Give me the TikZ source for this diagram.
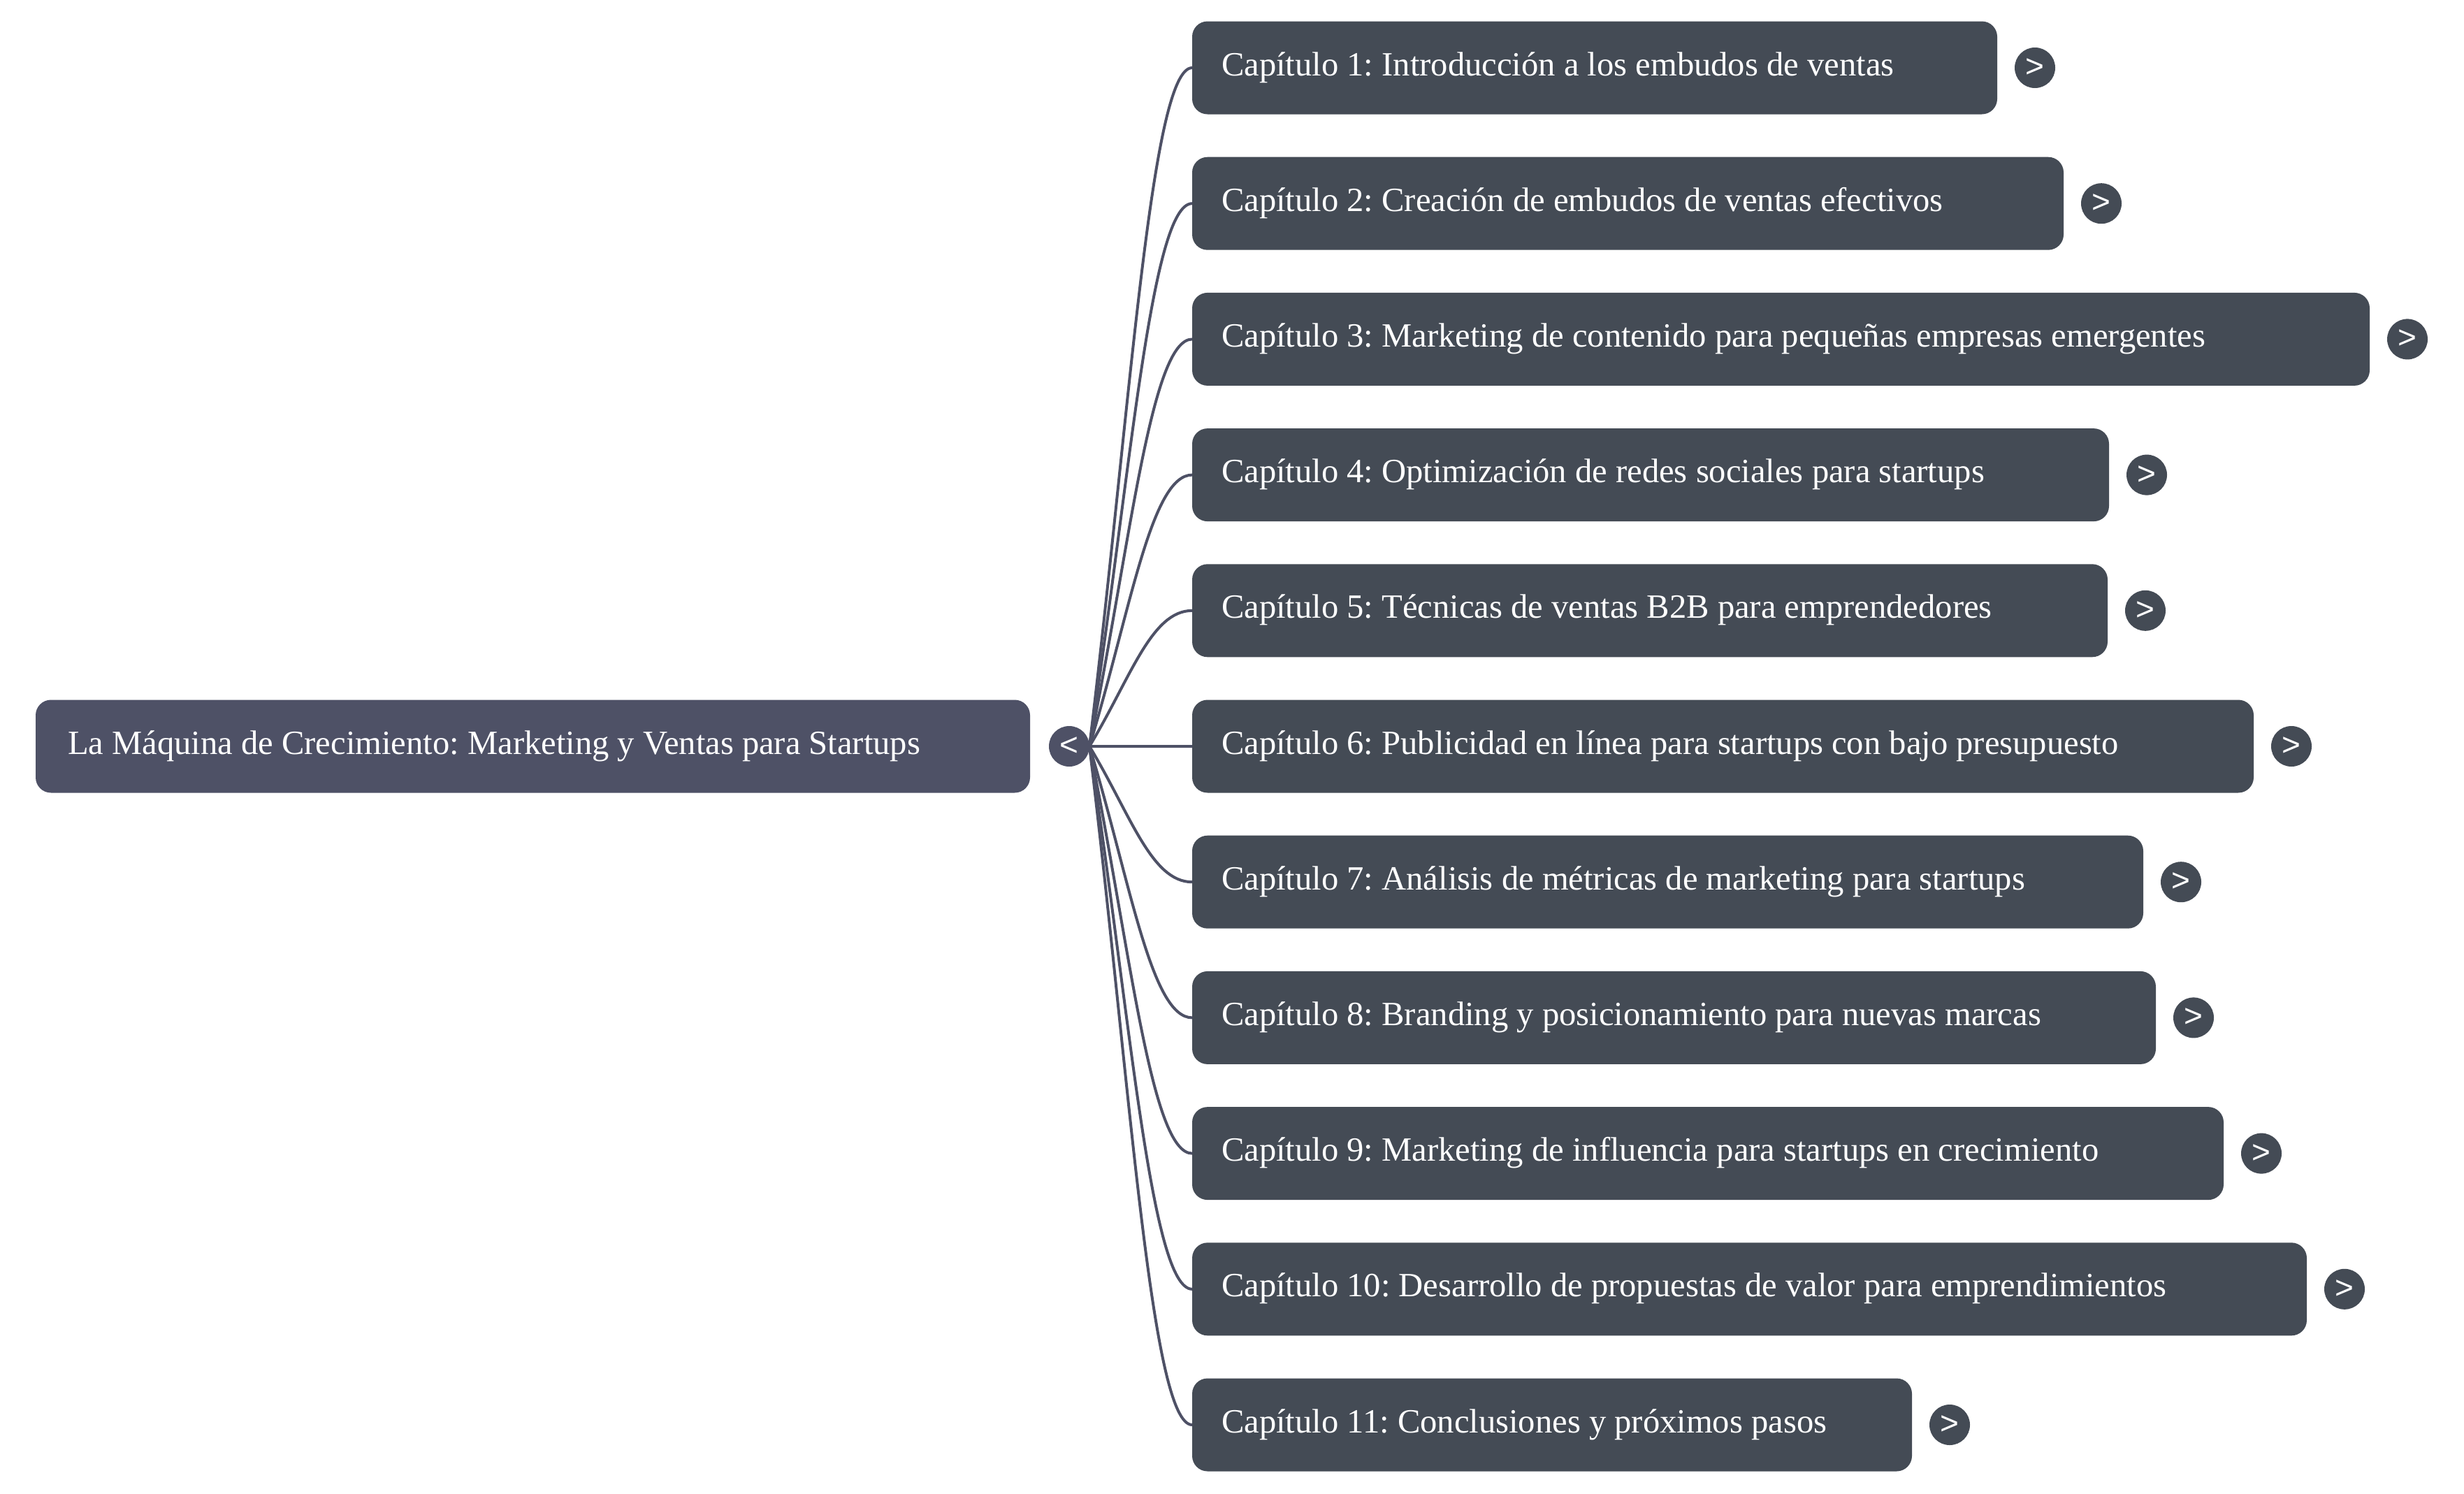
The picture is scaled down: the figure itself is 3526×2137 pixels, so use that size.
\documentclass[tikz,border=0pt]{standalone}
\usepackage{fontspec}
\setmainfont{Liberation Serif}
\newfontfamily\btnfont{Liberation Sans}
\usetikzlibrary{calc}
\definecolor{rootc}{RGB}{78,81,102}
\definecolor{chapc}{RGB}{68,75,85}
\definecolor{linec}{RGB}{78,81,102}
\frenchspacing
\begin{document}
\begin{tikzpicture}[x=1pt,y=-1pt,
  every node/.style={inner sep=0pt, outer sep=0pt},
  rootbox/.style={rectangle, rounded corners=22pt, fill=rootc, minimum height=133pt},
  chapbox/.style={rectangle, rounded corners=22pt, fill=chapc, minimum height=133pt},
  boxtext/.style={text=white, font=\fontsize{48.6}{58}\selectfont},
  rootbtn/.style={circle, fill=rootc, minimum size=58pt, text=white, font=\btnfont\fontsize{46}{54}\selectfont},
  chapbtn/.style={circle, fill=chapc, minimum size=58pt, text=white, font=\btnfont\fontsize{46}{54}\selectfont},
  conn/.style={draw=linec, line width=4pt}
]
\useasboundingbox (0,0) rectangle (3526,2137);

% root
\node[rootbox, anchor=west, minimum width=1423pt] (root) at (51,1068) {};
\node[boxtext, anchor=base west] (roottext) at ([xshift=46pt,yshift=-11pt]root.west) {La Máquina de Crecimiento: Marketing y Ventas para Startups};
\node[rootbtn] (rbtn) at (1530,1068) {<};

% chapters
\foreach \i/\r/\txt in {
  1/2858/{Capítulo 1: Introducción a los embudos de ventas},
  2/2953/{Capítulo 2: Creación de embudos de ventas efectivos},
  3/3391/{Capítulo 3: Marketing de contenido para pequeñas empresas emergentes},
  4/3018/{Capítulo 4: Optimización de redes sociales para startups},
  5/3016/{Capítulo 5: Técnicas de ventas B2B para emprendedores},
  6/3225/{Capítulo 6: Publicidad en línea para startups con bajo presupuesto},
  7/3067/{Capítulo 7: Análisis de métricas de marketing para startups},
  8/3085/{Capítulo 8: Branding y posicionamiento para nuevas marcas},
  9/3182/{Capítulo 9: Marketing de influencia para startups en crecimiento},
  10/3301/{Capítulo 10: Desarrollo de propuestas de valor para emprendimientos},
  11/2736/{Capítulo 11: Conclusiones y próximos pasos}} {
  \pgfmathsetmacro\w{\r-1706}
  \pgfmathsetmacro\cy{97+194.2*(\i-1)}
  \node[chapbox, anchor=west, minimum width=\w pt] (c\i) at (1706,\cy) {};
  \node[boxtext, anchor=base west] (t\i) at ([xshift=42pt,yshift=-11pt]c\i.west) {\txt};
  \node[chapbtn] (b\i) at ([xshift=54pt]c\i.east) {>};
}

% connectors
\foreach \i in {1,...,11} {
  \draw[conn] let \p0=(rbtn.east), \p3=(c\i.west) in
    (\p0) .. controls ({\x0+0.4*(\x3-\x0)},{\y0+0.5*(\y3-\y0)}) and ({\x0+0.6*(\x3-\x0)},\y3) .. (\p3);
}
\end{tikzpicture}
\end{document}
